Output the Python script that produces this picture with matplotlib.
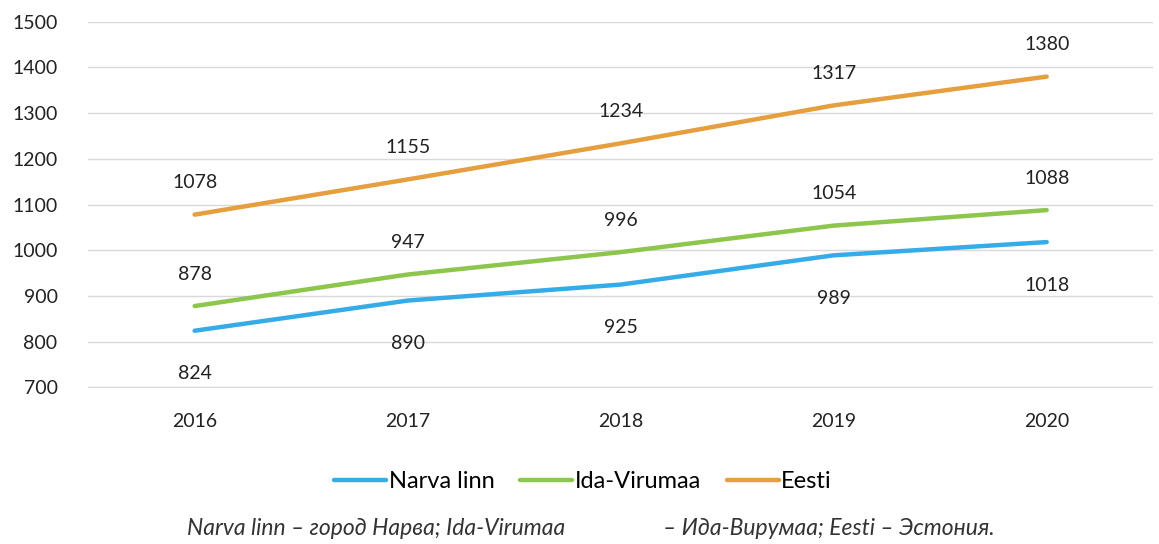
import matplotlib.pyplot as plt

years = ['2016', '2017', '2018', '2019', '2020']
narva = [824, 890, 925, 989, 1018]
ida_virumaa = [878, 947, 996, 1054, 1088]
eesti = [1078, 1155, 1234, 1317, 1380]

plt.rcParams['font.family'] = ['Lato', 'DejaVu Sans']

fig = plt.figure(figsize=(11.59, 5.44), dpi=100)
ax = fig.add_axes([0.076, 0.287, 0.919, 0.673])

x = range(len(years))
series = [
    ('Narva linn', narva, '#35ace8', -31),
    ('Ida-Virumaa', ida_virumaa, '#8cc64c', 23),
    ('Eesti', eesti, '#e59f3f', 23),
]
for name, vals, col, off in series:
    ax.plot(x, vals, color=col, lw=3.2, label=name, solid_capstyle='round')
    for i, v in zip(x, vals):
        ax.annotate(str(v), (i, v), xytext=(0, off), textcoords='offset points',
                    ha='center', va='center', fontsize=14, color='#222222')

ax.set_xlim(-0.5, 4.5)
ax.set_ylim(699, 1500)
ax.set_yticks(range(700, 1501, 100))
ax.set_xticks(list(x))
ax.set_xticklabels(years)
ax.grid(axis='y', color='#d9d9d9', lw=1)
ax.set_axisbelow(True)
for s in ax.spines.values():
    s.set_visible(False)
ax.tick_params(length=0, labelsize=14, colors='#222222')
ax.tick_params(axis='x', pad=18)
ax.tick_params(axis='y', pad=22)

fig.legend(loc='center', bbox_to_anchor=(0.503, 0.115), ncol=3, frameon=False,
           fontsize=17, handlelength=2.2, handletextpad=0.1, columnspacing=1.1)

# footnote in two pieces, with the wide gap of the original
fig.text(0.488, 0.028, 'Narva linn – город Нарва; Ida-Virumaa',
         ha='right', va='center', fontsize=16.5, style='italic', color='#333333')
fig.text(0.572, 0.028, '– Ида-Вирумаа; Eesti – Эстония.',
         ha='left', va='center', fontsize=16.5, style='italic', color='#333333')

fig.savefig('out.png', dpi=100)
